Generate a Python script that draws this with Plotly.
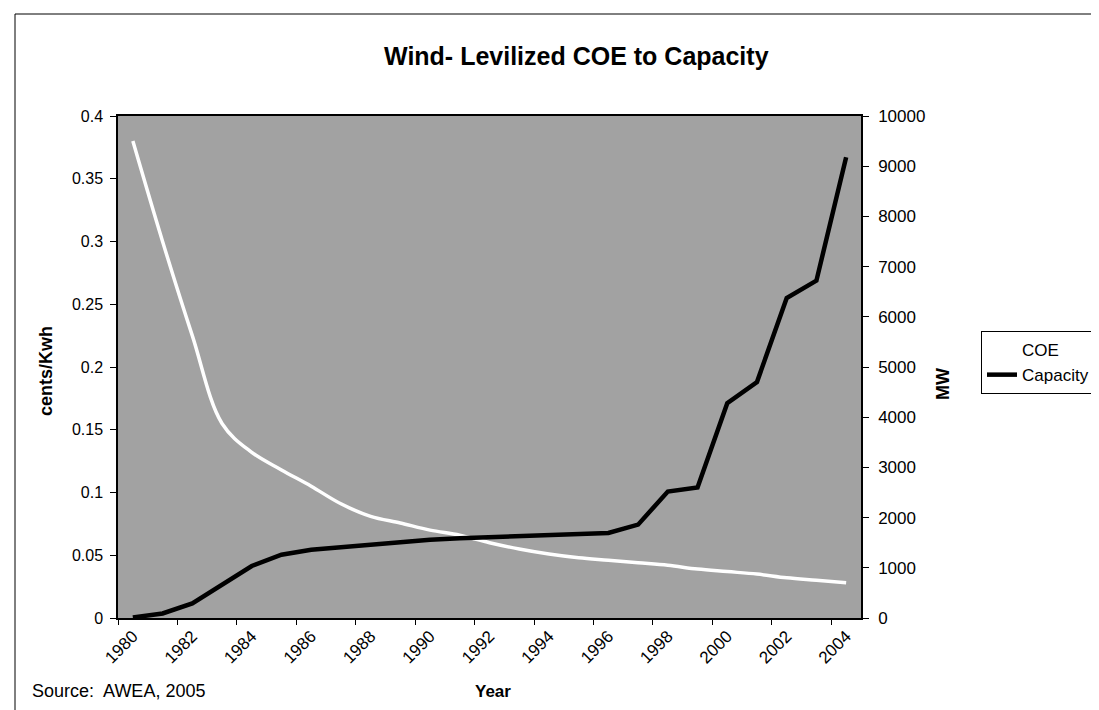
import plotly.graph_objects as go

# ---- data ----
years = [str(y) for y in range(1980, 2005)]
coe = [0.38, 0.30, 0.225, 0.155, 0.132, 0.118, 0.105, 0.091, 0.081, 0.0757,
       0.070, 0.066, 0.060, 0.055, 0.051, 0.048, 0.046, 0.044, 0.042, 0.039,
       0.037, 0.035, 0.032, 0.030, 0.028]
capacity = [10, 90, 290, 650, 1036, 1260, 1360, 1410, 1460, 1515,
            1560, 1590, 1610, 1630, 1660, 1690, 1693, 1860, 2520, 2600,
            4280, 4700, 6375, 6720, 9180]

FONT = "Liberation Sans, Arial, sans-serif"
W, H = 1099, 710
L, R, T, B = 110, 246, 108, 100
PW, PH = W - L - R, H - T - B


def px(x):
    return (x - L) / PW


def py(y):
    return (H - B - y) / PH


fig = go.Figure()
fig.add_trace(go.Scatter(x=years, y=coe, name="COE", mode="lines",
                         line=dict(color="white", width=3.5, shape="spline"),
                         yaxis="y"))
fig.add_trace(go.Scatter(x=years, y=capacity, name="Capacity", mode="lines",
                         line=dict(color="black", width=4.5),
                         yaxis="y2"))

tickfont = dict(family=FONT, size=16, color="black")

fig.update_layout(
    width=W, height=H,
    margin=dict(l=L, r=R, t=T, b=B, autoexpand=False),
    paper_bgcolor="white",
    plot_bgcolor="#a2a2a2",
    showlegend=True,
    legend=dict(x=px(973), y=py(323), xanchor="left", yanchor="top",
                bgcolor="white", bordercolor="black", borderwidth=1,
                font=dict(family=FONT, size=17, color="black"),
                itemwidth=30, tracegroupgap=0),
    xaxis=dict(type="category", tickson="boundaries", dtick=2, tick0=0,
               tickangle=-45, ticks="outside", ticklen=5, tickcolor="black",
               showline=True, linecolor="black", linewidth=1.5, mirror=True,
               showgrid=False, zeroline=False,
               tickfont=dict(family=FONT, size=17, color="black"),
               range=[-0.5, 24.5]),
    xaxis2=dict(overlaying="x", anchor="y", range=[-0.5, 24.5],
                tick0=-0.5, dtick=2, ticks="inside", ticklen=5,
                tickcolor="black", showticklabels=False, showgrid=False,
                zeroline=False, showline=False),
    yaxis=dict(range=[0, 0.4], dtick=0.05, ticks="outside", ticklen=6,
               tickcolor="black", showline=True, linecolor="black",
               linewidth=1.5, showgrid=False, zeroline=False,
               tickfont=tickfont, ticklabelstandoff=4),
    yaxis2=dict(range=[0, 10000], dtick=1000, tickformat="d",
                overlaying="y", side="right", anchor="x",
                ticks="outside", ticklen=6, tickcolor="black",
                showline=True, linecolor="black", linewidth=1.5,
                showgrid=False, zeroline=False,
                tickfont=dict(family=FONT, size=17, color="black"),
                ticklabelstandoff=6),
    yaxis3=dict(range=[0, 0.4], dtick=0.05, overlaying="y", side="left",
                anchor="x", ticks="inside", ticklen=4, tickcolor="black",
                showticklabels=False, showgrid=False, zeroline=False),
    yaxis4=dict(range=[0, 10000], dtick=1000, overlaying="y", side="right",
                anchor="x", ticks="inside", ticklen=4, tickcolor="black",
                showticklabels=False, showgrid=False, zeroline=False),
)

annotations = [
    dict(text="<b>Wind- Levilized COE to Capacity</b>", x=px(568), y=py(48),
         font=dict(family=FONT, size=25, color="black")),
    dict(text="<b>cents/Kwh</b>", x=px(38), y=py(363), textangle=-90,
         font=dict(family=FONT, size=18, color="black")),
    dict(text="<b>MW</b>", x=px(935), y=py(376), textangle=-90,
         font=dict(family=FONT, size=18, color="black")),
    dict(text="<b>Year</b>", x=px(485), y=py(683),
         font=dict(family=FONT, size=17, color="black")),
    dict(text="Source:  AWEA, 2005", x=px(22), y=py(683), xanchor="left",
         font=dict(family=FONT, size=18, color="black")),
]
for a in annotations:
    a.setdefault("xanchor", "center")
    a.update(xref="paper", yref="paper", yanchor="middle", showarrow=False)
fig.update_layout(annotations=annotations)

# outer chart frame
fig.add_shape(type="rect", xref="paper", yref="paper",
              x0=px(7), x1=px(1110), y0=py(705), y1=py(6),
              line=dict(color="black", width=1), fillcolor="rgba(0,0,0,0)",
              layer="below")

fig.write_html("out.html")
